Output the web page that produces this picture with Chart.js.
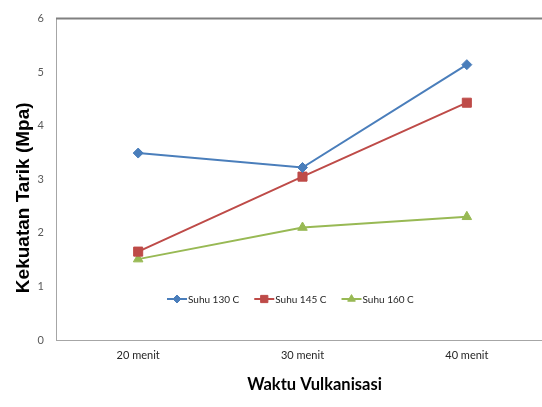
<!DOCTYPE html>
<html>
<head>
<meta charset="utf-8">
<script src="https://cdn.jsdelivr.net/npm/chart.js@4"></script>
<style>
  html, body { margin: 0; padding: 0; background: #fff; overflow: hidden; }
  .chart-box { width: 542px; height: 407px; overflow: hidden; }
</style>
</head>
<body>
<div class="chart-box">
  <canvas id="myChart" width="560" height="407"></canvas>
</div>
<script>
// categories and series
var labels = ["20 menit", "30 menit", "40 menit"];
var suhu130 = [3.49, 3.22, 5.14];
var suhu145 = [1.65, 3.05, 4.43];
var suhu160 = [1.51, 2.10, 2.30];
var seriesNames = ["Suhu 130 C", "Suhu 145 C", "Suhu 160 C"];
var yTicks = [0, 1, 2, 3, 4, 5, 6];

// line colours (excel 2007 style)
var colors = ["#4A7EBB", "#BE4B48", "#98B954"];
var markers = ["rectRot", "rect", "triangle"];
var markerSizes = [5, 6.4, 5.5];

// calibri-like font
var narrow = "Lato, 'Liberation Sans', Arial, sans-serif";

let chart = document.getElementById("myChart").getContext("2d");

// plot border: only the top edge is drawn dark
var topBorder = {
  id: "topBorder",
  afterDraw: function (c) {
    var a = c.chartArea;
    var ctx = c.ctx;
    ctx.save();
    ctx.strokeStyle = "#808080";
    ctx.lineWidth = 2;
    ctx.beginPath();
    ctx.moveTo(a.left, a.top);
    ctx.lineTo(a.right + 2, a.top);
    ctx.stroke();
    ctx.restore();
  }
};

// legend sits inside the plot, near the bottom
var innerLegend = {
  id: "innerLegend",
  afterDraw: function (c) {
    var ctx = c.ctx;
    var x = 167;
    var y = 299;
    ctx.save();
    ctx.font = "10px " + narrow;
    ctx.textBaseline = "middle";
    ctx.textAlign = "left";
    c.data.datasets.forEach(function (ds, i) {
      ctx.strokeStyle = ds.borderColor;
      ctx.lineWidth = 2;
      ctx.beginPath();
      ctx.moveTo(x, y);
      ctx.lineTo(x + 20, y);
      ctx.stroke();
      ctx.fillStyle = ds.pointBackgroundColor;
      ctx.strokeStyle = ds.pointBorderColor;
      ctx.lineWidth = 1;
      Chart.helpers.drawPoint(ctx, { pointStyle: ds.pointStyle, radius: ds.pointRadius * 0.8, rotation: 0, borderWidth: 1 }, x + 10, y);
      ctx.fillStyle = "#262626";
      ctx.fillText(ds.label, x + 21, y + 1);
      x += 21 + ctx.measureText(ds.label).width + 15;
    });
    ctx.restore();
  }
};

var allSeries = [suhu130, suhu145, suhu160];
var datasets = allSeries.map(function (vals, i) {
  return {
    label: seriesNames[i],
    data: vals,
    borderColor: colors[i],
    backgroundColor: colors[i],
    pointBackgroundColor: colors[i],
    pointBorderColor: colors[i],
    pointStyle: markers[i],
    pointRadius: markerSizes[i],
    pointBorderWidth: 1,
    borderWidth: 2,
    tension: 0,
    fill: false
  };
});

let costChart = new Chart(chart, {
  type: "line",
  data: { labels: labels, datasets: datasets },
  plugins: [topBorder, innerLegend],
  options: {
    responsive: false,
    animation: false,
    devicePixelRatio: 1,
    layout: { padding: { top: 13, right: 11, left: 0, bottom: 0 } },
    plugins: {
      legend: { display: false },
      tooltip: { enabled: false }
    },
    scales: {
      x: {
        type: "category",
        offset: true,
        grid: { display: false, drawTicks: false },
        border: { display: true, color: "#A6A6A6", width: 1 },
        ticks: {
          padding: 9,
          color: "#262626",
          font: { family: narrow, size: 11 }
        },
        title: {
          display: true,
          text: "      Waktu Vulkanisasi",
          color: "#000",
          font: { family: narrow, size: 16.5, weight: "bold" },
          padding: { top: 0, bottom: 12 }
        },
        afterFit: function (s) { s.height = 67; }
      },
      y: {
        min: 0,
        max: 6,
        grid: { display: false, drawTicks: false },
        border: { display: true, color: "#A6A6A6", width: 1 },
        afterBuildTicks: function (s) {
          s.ticks = yTicks.map(function (v) { return { value: v }; });
        },
        ticks: {
          padding: 12,
          color: "#595959",
          font: { family: narrow, size: 11 }
        },
        title: {
          display: true,
          text: "Kekuatan Tarik (Mpa)       ",
          color: "#000",
          font: { family: "'Liberation Sans', Arial, sans-serif", size: 19, weight: "bold" },
          padding: { top: 12, bottom: 0 }
        },
        afterFit: function (s) { s.width = 56; }
      }
    }
  }
});
</script>
</body>
</html>
